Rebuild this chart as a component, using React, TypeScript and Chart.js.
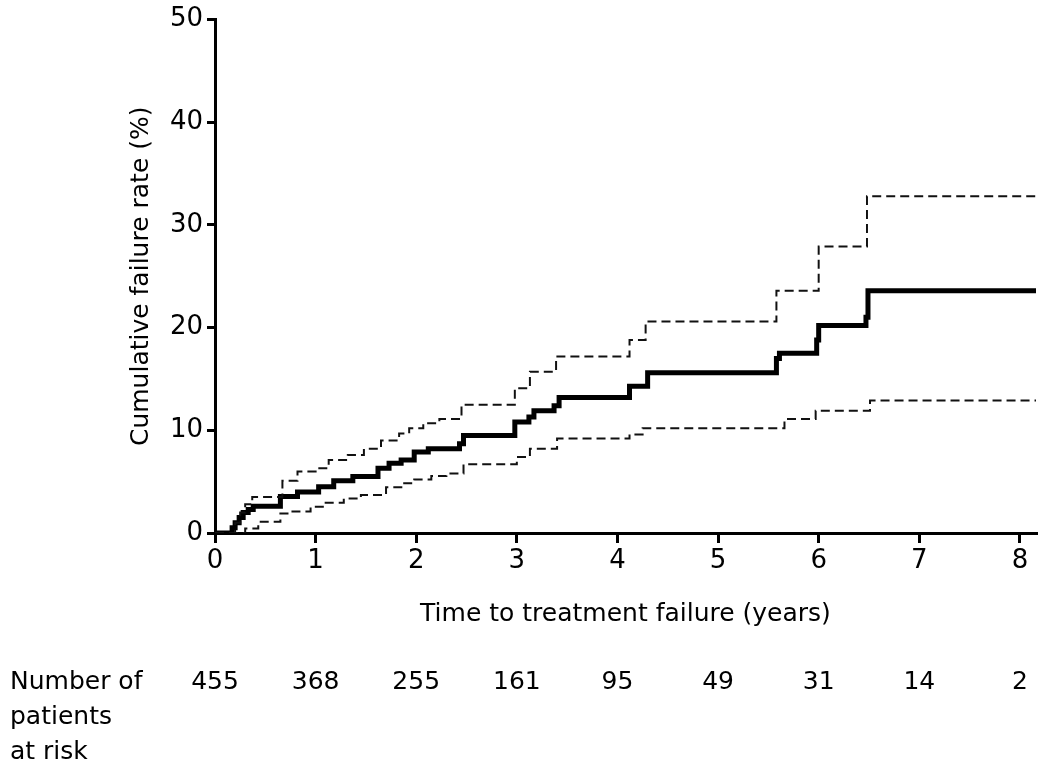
import React, { useEffect, useRef } from "react";
import { Chart, registerables } from "chart.js";

Chart.register(...registerables);

// Kaplan-Meier cumulative failure estimate (years, %)
const estimateTimes = [0, 0.15, 0.17, 0.2, 0.24, 0.28, 0.33, 0.38, 0.65, 0.82, 1.03, 1.18, 1.37, 1.62, 1.73, 1.85, 1.98, 2.12, 2.43, 2.47, 2.98, 3.12, 3.17, 3.37, 3.42, 4.12, 4.3, 5.58, 5.61, 5.98, 6.0, 6.47, 6.49, 8.16];
const estimateValues = [0, 0, 0.5, 1.0, 1.5, 2.0, 2.3, 2.6, 3.55, 4.0, 4.5, 5.1, 5.5, 6.3, 6.8, 7.1, 7.9, 8.2, 8.7, 9.5, 10.8, 11.3, 11.9, 12.4, 13.2, 14.3, 15.6, 17.0, 17.5, 18.8, 20.2, 21.0, 23.6, 23.6];

// Upper 95% confidence limit
const upperTimes = [0, 0.15, 0.2, 0.25, 0.3, 0.37, 0.67, 0.82, 1.0, 1.13, 1.32, 1.48, 1.65, 1.83, 1.93, 2.07, 2.23, 2.45, 2.98, 3.13, 3.39, 4.12, 4.28, 5.58, 6.0, 6.48, 8.16];
const upperValues = [0, 0, 1.0, 2.0, 2.8, 3.5, 5.1, 6.0, 6.3, 7.1, 7.6, 8.2, 9.0, 9.7, 10.2, 10.7, 11.1, 12.5, 14.1, 15.7, 17.2, 18.8, 20.6, 23.6, 27.9, 32.8, 32.8];

// Lower 95% confidence limit
const lowerTimes = [0, 0.28, 0.3, 0.43, 0.65, 0.77, 0.95, 1.1, 1.28, 1.45, 1.7, 1.87, 1.98, 2.15, 2.3, 2.47, 3.0, 3.13, 3.4, 4.12, 4.25, 5.66, 5.97, 6.51, 8.16];
const lowerValues = [0, 0, 0.45, 1.1, 1.9, 2.1, 2.55, 2.95, 3.35, 3.7, 4.45, 4.85, 5.2, 5.55, 5.8, 6.7, 7.4, 8.2, 9.2, 9.6, 10.2, 11.1, 11.9, 12.9, 12.9];

// Number at risk table
const atRiskYears = [0, 1, 2, 3, 4, 5, 6, 7, 8];
const atRiskCounts = [455, 368, 255, 161, 95, 49, 31, 14, 2];
const atRiskLabelLines = ["Number of", "patients", "at risk"];

const xAxisTitle = "Time to treatment failure (years)";
const yAxisTitle = "Cumulative failure rate (%)";

const FONT = "'DejaVu Sans', 'Liberation Sans', Arial, sans-serif";

const toPoints = (xs: number[], ys: number[]) => xs.map((x, i) => ({ x, y: ys[i] }));

const atRiskPlugin = {
  id: "atRisk",
  afterDraw(chart: any) {
    const ctx = chart.ctx;
    const xs = chart.scales.x;
    ctx.save();
    ctx.fillStyle = "#000";
    ctx.font = `25px ${FONT}`;
    ctx.textBaseline = "alphabetic";
    ctx.textAlign = "left";
    atRiskLabelLines.forEach((line, i) => {
      ctx.fillText(line, 10, 689 + i * 35);
    });
    ctx.textAlign = "center";
    atRiskCounts.forEach((n, i) => {
      ctx.fillText(String(n), xs.getPixelForValue(atRiskYears[i]), 689);
    });
    ctx.restore();
  },
};

export default function App() {
  const canvasRef = useRef<HTMLCanvasElement | null>(null);

  useEffect(() => {
    if (!canvasRef.current) return;
    const chart = new Chart(canvasRef.current, {
      type: "line",
      data: {
        datasets: [
          {
            label: "Upper 95% CI",
            data: toPoints(upperTimes, upperValues),
            borderColor: "#111",
            borderWidth: 2,
            borderDash: [9, 5],
            stepped: true,
            pointRadius: 0,
            fill: false,
          },
          {
            label: "Lower 95% CI",
            data: toPoints(lowerTimes, lowerValues),
            borderColor: "#111",
            borderWidth: 2,
            borderDash: [9, 5],
            stepped: true,
            pointRadius: 0,
            fill: false,
          },
          {
            label: "Cumulative failure",
            data: toPoints(estimateTimes, estimateValues),
            borderColor: "#000",
            borderWidth: 5,
            stepped: true,
            pointRadius: 0,
            fill: false,
            borderCapStyle: "round",
          },
        ],
      },
      options: {
        animation: false,
        responsive: false,
        devicePixelRatio: 1,
        layout: { padding: { top: 19, right: 14, bottom: 0, left: 0 } },
        plugins: {
          legend: { display: false },
          tooltip: { enabled: false },
        },
        scales: {
          x: {
            type: "linear",
            min: 0,
            max: 8.16,
            afterFit: (scale: any) => {
              scale.height = 240;
            },
            ticks: {
              stepSize: 1,
              includeBounds: false,
              color: "#000",
              padding: 3,
              font: { family: FONT, size: 26 },
            },
            grid: {
              drawOnChartArea: false,
              drawTicks: true,
              tickLength: 10,
              color: "#000",
              lineWidth: 3,
            },
            border: { display: true, color: "#000", width: 3 },
            title: {
              display: true,
              text: xAxisTitle,
              color: "#000",
              font: { family: FONT, size: 25 },
              padding: { top: 0, bottom: 144 },
            },
          },
          y: {
            type: "linear",
            min: 0,
            max: 50,
            afterFit: (scale: any) => {
              scale.width = 215;
            },
            ticks: {
              stepSize: 10,
              color: "#000",
              padding: 4,
              font: { family: FONT, size: 26 },
            },
            grid: {
              drawOnChartArea: false,
              drawTicks: true,
              tickLength: 8,
              color: "#000",
              lineWidth: 3,
            },
            border: { display: true, color: "#000", width: 3 },
            title: {
              display: true,
              text: yAxisTitle,
              color: "#000",
              font: { family: FONT, size: 25 },
              padding: { top: 126, bottom: 0 },
            },
          },
        },
      },
      plugins: [atRiskPlugin],
    } as any);
    return () => chart.destroy();
  }, []);

  return (
    <div style={{ position: "absolute", left: 0, top: 0, width: 1050, height: 773, background: "#fff" }}>
      <canvas ref={canvasRef} width={1050} height={773} style={{ display: "block" }} />
    </div>
  );
}
